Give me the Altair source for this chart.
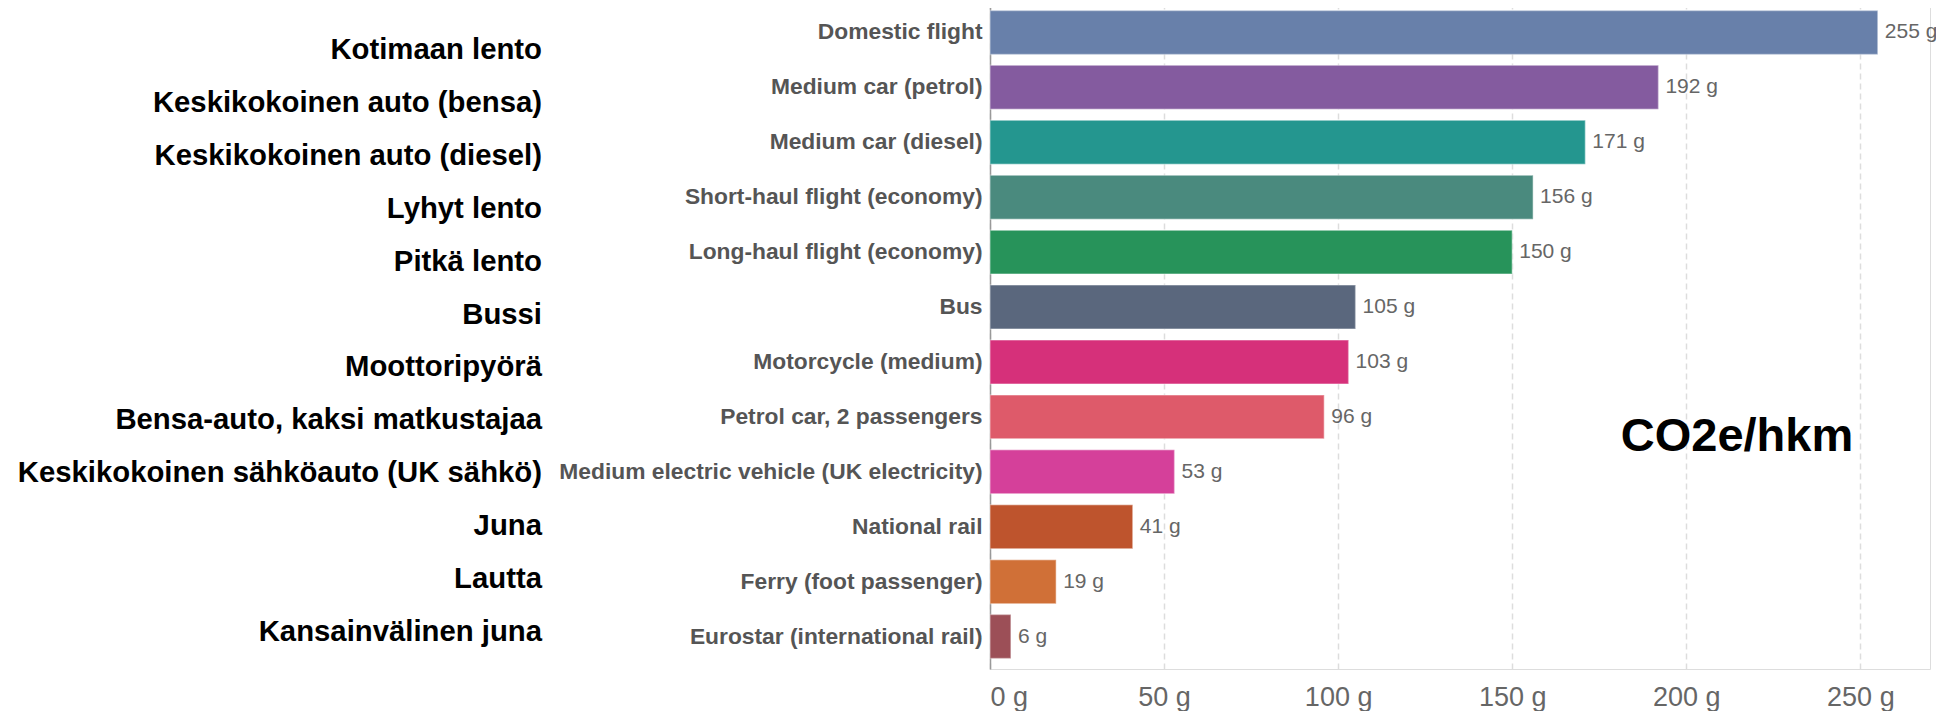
import altair as alt
import pandas as pd

modes_en = [
    "Domestic flight", "Medium car (petrol)", "Medium car (diesel)",
    "Short-haul flight (economy)", "Long-haul flight (economy)", "Bus",
    "Motorcycle (medium)", "Petrol car, 2 passengers",
    "Medium electric vehicle (UK electricity)", "National rail",
    "Ferry (foot passenger)", "Eurostar (international rail)",
]
modes_fi = [
    "Kotimaan lento", "Keskikokoinen auto (bensa)", "Keskikokoinen auto (diesel)",
    "Lyhyt lento", "Pitkä lento", "Bussi", "Moottoripyörä",
    "Bensa-auto, kaksi matkustajaa", "Keskikokoinen sähköauto (UK sähkö)",
    "Juna", "Lautta", "Kansainvälinen juna",
]
grams = [255, 192, 171, 156, 150, 105, 103, 96, 53, 41, 19, 6]
colors = [
    "#6880AA", "#845B9F", "#24968F", "#4A8A7E", "#27935A", "#5A677D",
    "#D6307A", "#DE5A6A", "#D5409A", "#BE542D", "#D07037", "#9C4F57",
]
unit_title = ["CO2e/hkm"]
x_ticks = [0, 50, 100, 150, 200, 250]

df = pd.DataFrame({"mode": modes_en, "g": grams, "color": colors})
df_fi = pd.DataFrame({"fi": modes_fi})
df_t = pd.DataFrame({"t": unit_title})

FONT = "Liberation Sans"

y_enc = alt.Y(
    "mode:N", sort=modes_en, title=None,
    scale=alt.Scale(paddingInner=0.2, paddingOuter=0.19),
    axis=alt.Axis(
        labelFont=FONT, labelFontWeight="bold", labelFontSize=22.8,
        labelColor="#555555", labelPadding=8, ticks=False,
        domainColor="#999999", domainWidth=1.5, labelLimit=600,
    ),
)
x_enc = alt.X(
    "g:Q", title=None,
    scale=alt.Scale(domain=[0, 270], nice=False),
    axis=alt.Axis(
        values=x_ticks, labelExpr="datum.value + ' g'", labelFont=FONT,
        labelFontSize=27, labelColor="#666666", labelPadding=15,
        ticks=False, domain=False, grid=True, gridColor="#dddddd",
        gridDash=[6, 4], gridWidth=1.5,
    ),
)

bars = alt.Chart(df).mark_bar(
    stroke="white", strokeOpacity=0.35, strokeWidth=1.5
).encode(
    y=y_enc, x=x_enc,
    color=alt.Color("color:N", scale=None),
)

vals = alt.Chart(df).mark_text(
    align="left", baseline="middle", dx=7, font=FONT, fontSize=21, color="#666666"
).encode(
    y=alt.Y("mode:N", sort=modes_en),
    x="g:Q",
    text=alt.Text("lab:N"),
).transform_calculate(lab="datum.g + ' g'")

main = alt.layer(bars, vals)

fi_text = alt.Chart(df_fi).mark_text(
    align="right", baseline="middle", font=FONT, fontWeight="bold",
    fontSize=29.3, color="#000000",
).encode(
    y=alt.Y("fi:N", sort=modes_fi, axis=None,
            scale=alt.Scale(type="point", range=[50, 632], padding=0)),
    x=alt.value(-448),
    text="fi:N",
)

unit = alt.Chart(df_t).mark_text(
    align="center", baseline="alphabetic", font=FONT, fontWeight="bold",
    fontSize=47, color="#000000",
).encode(
    x=alt.value(747), y=alt.value(451), text="t:N",
)

chart = alt.layer(main, unit, fi_text).resolve_scale(
    y="independent"
).properties(
    width=940, height=669,
    autosize=alt.AutoSizeParams(type="none"),
    padding={"left": 982, "top": -8, "right": 6, "bottom": 42},
).configure_view(stroke=None).configure(background="white")

chart.save("out.html", embed_options={"renderer": "svg", "actions": False})
